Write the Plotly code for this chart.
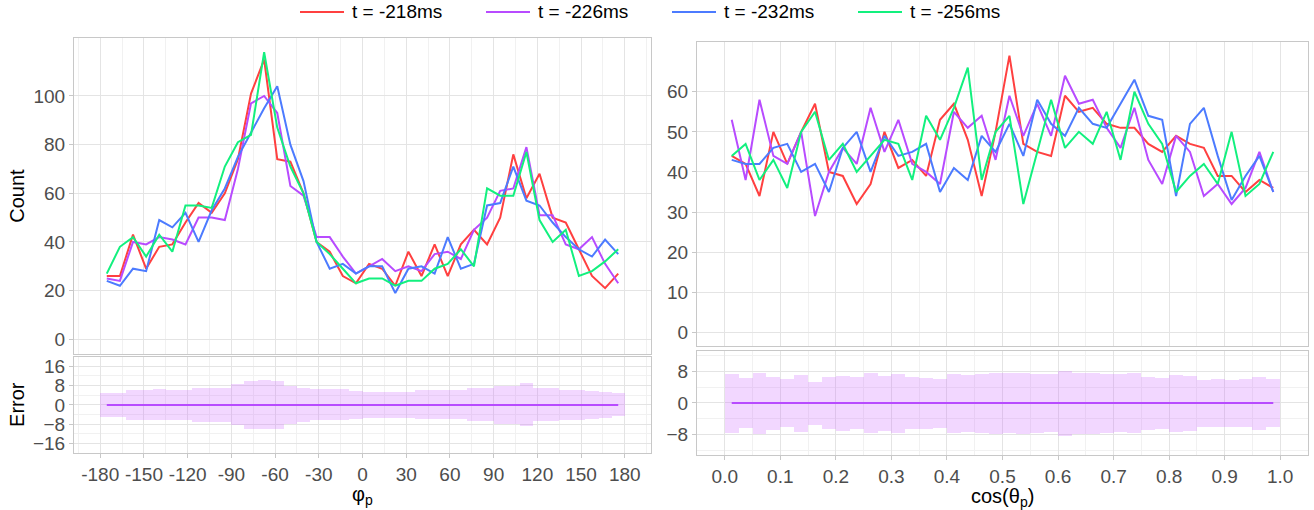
import plotly.graph_objects as go

W, H = 1314, 510

# ---------------- data ----------------
phi_centers = [-175.5, -166.5, -157.5, -148.5, -139.5, -130.5, -121.5, -112.5, -103.5, -94.5,
               -85.5, -76.5, -67.5, -58.5, -49.5, -40.5, -31.5, -22.5, -13.5, -4.5,
               4.5, 13.5, 22.5, 31.5, 40.5, 49.5, 58.5, 67.5, 76.5, 85.5,
               94.5, 103.5, 112.5, 121.5, 130.5, 139.5, 148.5, 157.5, 166.5, 175.5]
phi_bin_width = 9

cos_centers = [0.0125, 0.0375, 0.0625, 0.0875, 0.1125, 0.1375, 0.1625, 0.1875, 0.2125, 0.2375,
               0.2625, 0.2875, 0.3125, 0.3375, 0.3625, 0.3875, 0.4125, 0.4375, 0.4625, 0.4875,
               0.5125, 0.5375, 0.5625, 0.5875, 0.6125, 0.6375, 0.6625, 0.6875, 0.7125, 0.7375,
               0.7625, 0.7875, 0.8125, 0.8375, 0.8625, 0.8875, 0.9125, 0.9375, 0.9625, 0.9875]
cos_bin_width = 0.025

series_names = ["t = -218ms", "t = -226ms", "t = -232ms", "t = -256ms"]
series_colors = ["#FF4040", "#B84BFF", "#4C7BFF", "#12F07E"]

phi_218 = [26, 26, 43, 29, 38, 39, 48, 56, 52, 60, 74, 101, 115, 74, 73, 60, 40, 36, 26, 23,
           31, 29, 22, 36, 26, 39, 26, 39, 45, 39, 50, 76, 58, 68, 50, 48, 37, 26, 21, 27]
phi_226 = [25, 24, 40, 39, 42, 41, 39, 50, 50, 49, 70, 97, 100, 93, 63, 59, 42, 42, 34, 27,
           30, 33, 28, 30, 28, 35, 36, 33, 45, 50, 61, 62, 79, 51, 51, 39, 37, 42, 31, 23]
phi_232 = [24, 22, 29, 28, 49, 46, 52, 40, 53, 62, 75, 85, 95, 104, 80, 65, 40, 29, 31, 27,
           30, 30, 19, 29, 30, 27, 42, 29, 31, 55, 56, 71, 57, 55, 48, 42, 37, 34, 41, 35]
phi_256 = [27, 38, 42, 34, 43, 36, 55, 55, 54, 71, 81, 84, 118, 87, 71, 60, 40, 35, 29, 23,
           25, 25, 22, 24, 24, 29, 31, 37, 30, 62, 59, 59, 77, 49, 40, 45, 26, 28, 32, 37]

cos_218 = [44, 42, 34, 50, 42, 50, 57, 40, 39, 32, 37, 50, 41, 43, 39, 53, 57, 48, 34, 50,
           69, 47, 45, 44, 59, 55, 56, 52, 51, 51, 47, 45, 49, 47, 46, 39, 39, 35, 38, 36]
cos_226 = [53, 38, 58, 44, 42, 50, 29, 40, 46, 42, 56, 45, 53, 42, 40, 37, 55, 51, 54, 43,
           59, 49, 57, 49, 64, 57, 58, 51, 46, 56, 43, 37, 49, 45, 34, 37, 32, 36, 45, 35]
cos_232 = [43, 42, 42, 46, 47, 40, 42, 35, 46, 50, 40, 49, 44, 45, 47, 35, 41, 38, 49, 45,
           52, 44, 58, 52, 49, 56, 52, 51, 57, 63, 54, 53, 34, 52, 56, 44, 33, 39, 44, 35]
cos_256 = [44, 47, 38, 43, 36, 50, 55, 43, 47, 40, 44, 48, 47, 38, 54, 48, 56, 66, 38, 50,
           54, 32, 45, 58, 46, 50, 47, 55, 43, 60, 52, 47, 35, 39, 42, 37, 50, 34, 37, 45]

phi_error = [5.1, 5.1, 6.2, 6.2, 6.4, 6.2, 6.2, 7.1, 7.1, 7.1, 8.5, 9.9, 10.2, 9.9, 7.8, 7.1, 6.4, 6.4, 6.4, 5.8,
             5.3, 5.3, 5.3, 5.3, 6.0, 6.0, 6.0, 6.0, 6.9, 6.9, 7.8, 7.8, 8.9, 6.9, 6.9, 6.2, 6.2, 5.8, 5.5, 4.8]
cos_error = [7.4, 6.3, 7.8, 6.7, 6.1, 7.2, 5.5, 6.6, 6.9, 6.6, 7.6, 7.0, 7.4, 6.6, 6.4, 6.2, 7.5, 7.2, 7.5, 7.8,
             7.6, 7.7, 7.5, 7.3, 8.2, 7.7, 7.7, 7.5, 7.3, 7.6, 6.7, 6.5, 7.2, 7.0, 6.0, 6.1, 5.9, 6.1, 6.7, 6.1]
error_mean = 0

phi_ticks = [-180, -150, -120, -90, -60, -30, 0, 30, 60, 90, 120, 150, 180]
cos_ticks = [0.0, 0.1, 0.2, 0.3, 0.4, 0.5, 0.6, 0.7, 0.8, 0.9, 1.0]
count_ticks_left = [0, 20, 40, 60, 80, 100]
count_ticks_right = [0, 10, 20, 30, 40, 50, 60]
error_ticks_left = [-16, -8, 0, 8, 16]
error_ticks_right = [-8, 0, 8]

# ---------------- style ----------------
FONT = "Liberation Sans, Arial, sans-serif"
TICK_FONT = dict(family=FONT, size=19, color="#4D4D4D")
BORDER = "#C8C8C8"
GRID = "#E4E4E4"
MINOR = "#F1F1F1"
BAND = "rgba(204,102,255,0.26)"
CENTER_LINE = "#B84BFF"


def px_x(a, b):
    return [a / W, b / W]


def px_y(top, bottom):
    return [1 - bottom / H, 1 - top / H]


fig = go.Figure()

phi_series = [phi_218, phi_226, phi_232, phi_256]
cos_series = [cos_218, cos_226, cos_232, cos_256]

for name, col, ys in zip(series_names, series_colors, phi_series):
    fig.add_trace(go.Scatter(x=phi_centers, y=ys, mode="lines", name=name,
                             line=dict(color=col, width=2), xaxis="x", yaxis="y",
                             showlegend=False))
for name, col, ys in zip(series_names, series_colors, cos_series):
    fig.add_trace(go.Scatter(x=cos_centers, y=ys, mode="lines", name=name,
                             line=dict(color=col, width=2), xaxis="x2", yaxis="y2",
                             showlegend=False))

# error bands
fig.add_trace(go.Bar(x=phi_centers, y=[2 * e for e in phi_error], base=[-e for e in phi_error],
                     width=phi_bin_width, marker=dict(color=BAND, line=dict(width=0)),
                     xaxis="x3", yaxis="y3", showlegend=False, hoverinfo="skip"))
fig.add_trace(go.Scatter(x=[phi_centers[0], phi_centers[-1]], y=[error_mean, error_mean], mode="lines",
                         line=dict(color=CENTER_LINE, width=2), xaxis="x3", yaxis="y3",
                         showlegend=False))
fig.add_trace(go.Bar(x=cos_centers, y=[2 * e for e in cos_error], base=[-e for e in cos_error],
                     width=cos_bin_width, marker=dict(color=BAND, line=dict(width=0)),
                     xaxis="x4", yaxis="y4", showlegend=False, hoverinfo="skip"))
fig.add_trace(go.Scatter(x=[cos_centers[0], cos_centers[-1]], y=[error_mean, error_mean], mode="lines",
                         line=dict(color=CENTER_LINE, width=2), xaxis="x4", yaxis="y4",
                         showlegend=False))


def axis(domain, rng, anchor, **kw):
    d = dict(domain=domain, range=rng, anchor=anchor, showline=True, mirror=True,
             linecolor=BORDER, linewidth=1, showgrid=True, gridcolor=GRID, gridwidth=1,
             zeroline=False, tickfont=TICK_FONT, ticks="outside", ticklen=4,
             tickcolor=BORDER, tickwidth=1, fixedrange=True)
    d.update(kw)
    return d


LX = px_x(74, 651)
RX = px_x(697, 1308)

# manual legend (line sample + label) across the top
shapes = []
legend_annots = []
for i, (name, col) in enumerate(zip(series_names, series_colors)):
    x0 = 300 + 186 * i
    shapes.append(dict(type="line", xref="paper", yref="paper",
                       x0=x0 / W, x1=(x0 + 44) / W, y0=1 - 11 / H, y1=1 - 11 / H,
                       line=dict(color=col, width=2)))
    legend_annots.append(dict(text=name, x=(x0 + 50) / W, y=1 - 11 / H, xref="paper", yref="paper",
                              xanchor="left", yanchor="middle", showarrow=False,
                              font=dict(family=FONT, size=19, color="black")))

fig.update_layout(
    width=W, height=H,
    margin=dict(l=0, r=0, t=0, b=0),
    paper_bgcolor="white", plot_bgcolor="white",
    font=dict(family=FONT, size=19, color="black"),
    bargap=0,
    showlegend=False,
    xaxis=axis(LX, [-198, 198], "y", tickvals=phi_ticks, showticklabels=False, ticks="",
               minor=dict(dtick=15, tick0=-195, showgrid=True, gridcolor=MINOR)),
    yaxis=axis(px_y(37, 354), [-5.9, 123.9], "x", tickmode="array", tickvals=count_ticks_left),
    xaxis2=axis(RX, [-0.05, 1.05], "y2", tickvals=cos_ticks, showticklabels=False, ticks="",
                minor=dict(dtick=0.05, tick0=-0.05, showgrid=True, gridcolor=MINOR)),
    yaxis2=axis(px_y(41, 346.5), [-3.45, 72.45], "x2", tickmode="array", tickvals=count_ticks_right),
    xaxis3=axis(LX, [-198, 198], "y3", tickmode="array", tickvals=phi_ticks,
                ticktext=[str(t) for t in phi_ticks],
                minor=dict(dtick=15, tick0=-195, showgrid=True, gridcolor=MINOR)),
    yaxis3=axis(px_y(357.5, 453.5), [-19.8, 19.8], "x3", tickmode="array",
                tickvals=error_ticks_left,
                minor=dict(tickvals=[-12, -4, 4, 12], showgrid=True, gridcolor=MINOR)),
    xaxis4=axis(RX, [-0.05, 1.05], "y4", tickmode="array", tickvals=cos_ticks,
                ticktext=["%.1f" % t for t in cos_ticks],
                minor=dict(dtick=0.05, tick0=-0.05, showgrid=True, gridcolor=MINOR)),
    yaxis4=axis(px_y(351, 456), [-13.25, 13.25], "x4", tickmode="array",
                tickvals=error_ticks_right,
                minor=dict(tickvals=[-12, -4, 4, 12], showgrid=True, gridcolor=MINOR)),
    shapes=shapes,
    annotations=legend_annots + [
        dict(text="Count", x=17.5 / W, y=1 - 196 / H, xref="paper", yref="paper",
             xanchor="center", yanchor="middle",
             textangle=-90, showarrow=False, font=dict(family=FONT, size=20, color="black")),
        dict(text="Error", x=17.5 / W, y=1 - 405 / H, xref="paper", yref="paper",
             xanchor="center", yanchor="middle",
             textangle=-90, showarrow=False, font=dict(family=FONT, size=20, color="black")),
        dict(text="φ<sub>p</sub>", x=362 / W, y=1 - 496 / H, xref="paper", yref="paper",
             xanchor="center", yanchor="middle",
             showarrow=False, font=dict(family=FONT, size=20, color="black")),
        dict(text="cos(θ<sub>p</sub>)", x=1002 / W, y=1 - 498 / H, xref="paper", yref="paper",
             xanchor="center", yanchor="middle",
             showarrow=False, font=dict(family=FONT, size=20, color="black")),
    ],
)

fig.write_html("out.html")
